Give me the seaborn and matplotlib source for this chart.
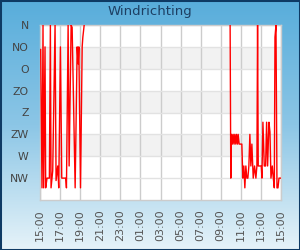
import numpy as np
import pandas as pd
import matplotlib
matplotlib.use("Agg")
import matplotlib.pyplot as plt
import matplotlib.dates as mdates
from matplotlib.colors import LinearSegmentedColormap
from matplotlib.patches import Rectangle
import seaborn as sns

# ---- data -------------------------------------------------------------
title = "Windrichting"
dir_labels = ["N", "NO", "O", "ZO", "Z", "ZW", "W", "NW"]
dir_degrees = [0, 45, 90, 135, 180, 225, 270, 315]

# segment 1 : day 1 afternoon/evening
seg1_times = ["15:04", "15:12", "15:18", "15:22", "15:30", "15:34", "15:42", "15:56",
              "16:02", "16:06", "16:16", "16:30", "16:36", "16:46", "16:52", "17:02",
              "17:10", "17:34", "17:38", "17:48", "17:54", "18:06", "18:12", "18:30",
              "18:42", "18:48", "18:52", "19:02", "19:12", "19:16", "19:24"]
seg1_deg = [50, 335, 0, 335, 45, 335, 315, 315,
            0, 335, 300, 0, 320, 290, 335, 45,
            315, 315, 335, 0, 290, 0, 5, 335,
            45, 80, 45, 335, 45, 25, 0]

# segment 2 : day 2 late morning / afternoon
seg2_times = ["09:56", "10:00", "10:04", "10:10", "10:14", "10:20", "10:24", "10:30",
              "10:34", "10:40", "10:44", "10:50", "10:58", "11:06", "11:12", "11:18",
              "11:24", "11:30", "11:36", "11:42", "11:48", "11:54", "12:00", "12:06",
              "12:14", "12:22", "12:30", "12:36", "12:40", "12:44", "13:02", "13:06",
              "13:12", "13:20", "13:28", "13:34", "13:40", "13:48", "13:54", "14:00",
              "14:08", "14:14", "14:20", "14:24", "14:30", "14:36", "14:42", "14:48",
              "15:00"]
seg2_deg = [0, 315, 225, 245, 225, 245, 225, 245,
            225, 245, 225, 245, 245, 245, 315, 290,
            335, 290, 315, 315, 290, 225, 290, 245,
            315, 290, 315, 290, 0, 290, 290, 315,
            200, 290, 290, 200, 290, 200, 220, 315,
            290, 315, 335, 25, 0, 335, 335, 315,
            315]

day1 = "2024-05-01 "
day2 = "2024-05-02 "
x_start = pd.Timestamp(day1 + "15:00")
x_end = pd.Timestamp(day2 + "15:00")

df = pd.concat([
    pd.DataFrame({"time": pd.to_datetime([day1 + t for t in seg1_times]),
                  "deg": seg1_deg, "segment": 1}),
    pd.DataFrame({"time": pd.to_datetime([day2 + t for t in seg2_times]),
                  "deg": seg2_deg, "segment": 2}),
], ignore_index=True)

# ---- figure -----------------------------------------------------------
sns.set_style("white")
plt.rcParams["font.family"] = ["DejaVu Sans"]

fig = plt.figure(figsize=(3.0, 2.5), dpi=100)

# gradient background
bg = fig.add_axes([0, 0, 1, 1], zorder=-10)
cmap = LinearSegmentedColormap.from_list("bg", ["#58addb", "#8cc6e6", "#e6f3f9"])
grad = np.linspace(0, 1, 256).reshape(-1, 1)
bg.imshow(grad, aspect="auto", cmap=cmap, extent=[0, 1, 0, 1], origin="upper")
bg.axis("off")

fig.patches.append(Rectangle((0, 0), 1, 1, transform=fig.transFigure,
                             fill=False, edgecolor="#0e3a64", linewidth=2.2))

ax = fig.add_axes([40 / 300, 50 / 250, 241 / 300, 175 / 250])
ax.set_facecolor("white")

for lo, hi in [(45, 90), (135, 180), (225, 270)]:
    ax.axhspan(lo, hi, color="#f2f2f2", zorder=0, lw=0)

sns.lineplot(data=df, x="time", y="deg", units="segment", estimator=None,
             color="#ff0000", linewidth=1.0, ax=ax, legend=False, zorder=3)

ax.set_xlim(x_start, x_end)
ax.set_ylim(360, 0)
ax.set_yticks(dir_degrees)
ax.set_yticklabels(dir_labels)

ax.xaxis.set_major_locator(mdates.HourLocator(byhour=list(range(1, 24, 2))))
ax.xaxis.set_major_formatter(mdates.DateFormatter("%H:%M"))

ax.grid(True, axis="x", color="#cccccc", linewidth=1.0, zorder=1)
ax.grid(True, axis="y", color="#e2e2e2", linewidth=1.0, zorder=1)
ax.set_axisbelow(True)

ax.tick_params(axis="x", length=0, pad=7, labelsize=8, labelcolor="#555555",
               labelrotation=90)
ax.tick_params(axis="y", length=0, pad=8, labelsize=7.8, labelcolor="#444444")
for s in ax.spines.values():
    s.set_color("#cccccc")
    s.set_linewidth(1.0)

ax.set_xlabel("")
ax.set_ylabel("")

fig.text(0.5, 1 - 12 / 250, title, ha="center", va="center",
         fontsize=9.5, color="#1d3f63")

fig.savefig("out.png", dpi=100)
